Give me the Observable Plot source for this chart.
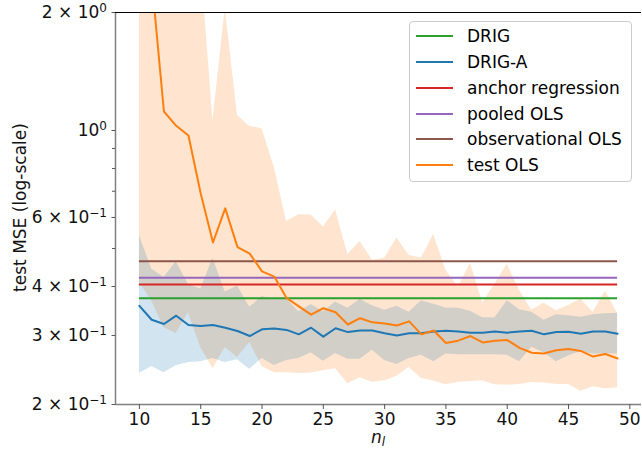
<!DOCTYPE html>
<html><head><meta charset="utf-8">
<script src="https://cdn.jsdelivr.net/npm/d3@7"></script>
<script src="https://cdn.jsdelivr.net/npm/@observablehq/plot@0.6"></script>
<style>
body{margin:0;background:#fff;}
#wrap{position:relative;width:642px;height:450px;font-family:"DejaVu Sans",sans-serif;overflow:hidden;}
.legend{position:absolute;left:409px;top:21px;width:223px;height:161px;border:1px solid #cccccc;border-radius:4px;background:rgba(255,255,255,0.8);box-sizing:border-box;}
.legend .row{position:absolute;left:6px;height:20px;display:flex;align-items:center;font-size:17px;color:#000;white-space:nowrap;}
.legend .sw{width:37px;height:2px;margin-right:14px;}
</style></head><body><div id="wrap"></div>
<script>
const nValues = [10,11,12,13,14,15,16,17,18,19,20,21,22,23,24,25,26,27,28,29,30,31,32,33,34,35,36,37,38,39,40,41,42,43,44,45,46,47,48,49];

const drigA = [0.357,0.329,0.321,0.337,0.319,0.317,0.319,0.314,0.308,0.299,
  0.311,0.3125,0.310,0.302,0.314,0.298,0.313,0.306,0.309,0.309,
  0.304,0.300,0.304,0.304,0.307,0.3085,0.307,0.305,0.305,0.307,
  0.305,0.307,0.3085,0.302,0.306,0.3065,0.303,0.307,0.307,0.303];
const drigAUpper = [0.540,0.443,0.422,0.4625,0.405,0.394,0.472,0.387,0.401,0.354,
  0.377,0.370,0.373,0.345,0.360,0.345,0.365,0.352,0.371,0.357,
  0.348,0.356,0.344,0.368,0.3605,0.3525,0.352,0.346,0.333,0.333,
  0.368,0.349,0.344,0.328,0.339,0.337,0.334,0.339,0.341,0.342];
const drigALower = [0.240,0.250,0.241,0.251,0.256,0.257,0.262,0.256,0.260,0.246,
  0.262,0.2515,0.259,0.262,0.271,0.258,0.270,0.261,0.261,0.275,
  0.259,0.253,0.262,0.267,0.257,0.269,0.268,0.268,0.268,0.268,
  0.267,0.257,0.280,0.271,0.257,0.266,0.273,0.269,0.269,0.269];

const testOLS = [4.5,2.43,1.118,1.028,0.971,0.691,0.518,0.633,0.504,0.485,
  0.437,0.424,0.374,0.356,0.339,0.352,0.344,0.320,0.332,0.324,
  0.322,0.318,0.326,0.302,0.309,0.287,0.291,0.299,0.288,0.291,
  0.292,0.279,0.271,0.270,0.275,0.277,0.274,0.265,0.269,0.262];
const testOLSUpper = [6.0,5.0,4.0,3.5,3.2,2.7,1.060,2.05,1.092,1.024,
  1.010,0.806,0.586,0.610,0.609,0.567,0.627,0.483,0.521,0.467,
  0.472,0.532,0.480,0.473,0.543,0.440,0.398,0.458,0.363,0.406,
  0.455,0.391,0.348,0.363,0.347,0.358,0.371,0.344,0.389,0.342];
const testOLSLower = [0.410,0.368,0.314,0.3035,0.343,0.2795,0.247,0.2795,0.2635,0.288,
  0.250,0.241,0.241,0.240,0.2405,0.244,0.2466,0.226,0.234,0.228,
  0.230,0.236,0.2485,0.233,0.2295,0.2245,0.228,0.2288,0.2295,0.2246,
  0.224,0.2249,0.2276,0.2269,0.2249,0.2249,0.2161,0.2219,0.2193,0.2206];

const hlineNames = ["DRIG","anchor regression","pooled OLS","observational OLS"];
const hlineValues = [0.3734,0.4046,0.421,0.464];

const legendNames = ["DRIG","DRIG-A","anchor regression","pooled OLS","observational OLS","test OLS"];
const legendColors = ["#2ca02c","#1f77b4","#d62728","#9467bd","#8c564b","#ff7f0e"];

const xTicks = [10,15,20,25,30,35,40,45,50];
const yTickValues = [0.2,0.3,0.4,0.6,1,2];
const yTickLabels = ["2 × 10^−1","3 × 10^−1","4 × 10^−1","6 × 10^−1","10^0","2 × 10^0"];
const yMinorTicks = [0.5,0.7,0.8,0.9];

const colorOf = name => legendColors[legendNames.indexOf(name)];
const rows = nValues.map((n,i)=>({n, a:drigA[i], aLo:drigALower[i], aHi:drigAUpper[i], t:testOLS[i], tLo:testOLSLower[i], tHi:testOLSUpper[i]}));
const hrows = hlineNames.map((name,i)=>({name, value:hlineValues[i], color:colorOf(name)}));
const x0 = nValues[0], x1 = nValues[nValues.length-1];
const xDom = [x0-(x1-x0)*0.05, x1+(x1-x0)*0.05];

const chart = Plot.plot({
  width: 642, height: 450,
  marginLeft: 115, marginRight: 1, marginTop: 12, marginBottom: 46,
  style: {fontFamily: "DejaVu Sans, sans-serif", fontSize: "17px", background: "white", color: "black"},
  x: {domain: xDom},
  y: {type: "log", domain: [0.2, 2]},
  color: {type: "identity"},
  marks: [
    Plot.areaY(rows, {x:"n", y1:"tLo", y2:"tHi", fill:colorOf("test OLS"), fillOpacity:0.2, clip:true}),
    Plot.areaY(rows, {x:"n", y1:"aLo", y2:"aHi", fill:colorOf("DRIG-A"), fillOpacity:0.2, clip:true}),
    Plot.ruleY(hrows, {y:"value", x1:x0, x2:x1, stroke:"color", strokeWidth:2}),
    Plot.lineY(rows, {x:"n", y:"a", stroke:colorOf("DRIG-A"), strokeWidth:2, clip:true}),
    Plot.lineY(rows, {x:"n", y:"t", stroke:colorOf("test OLS"), strokeWidth:2, clip:true}),
    Plot.ruleX([xDom[0]], {stroke:"#808080", strokeWidth:1.5}),
    Plot.ruleY([0.2], {stroke:"#808080", strokeWidth:1.5}),
    Plot.ruleY([2], {stroke:"#000", strokeWidth:1.2}),
    Plot.axisX(xTicks, {tickSize:5, tickPadding:3, label:null, stroke:"#555", fill:"#111"}),
    Plot.axisY(yTickValues, {tickSize:3.5, tickPadding:5, label:null, stroke:"#555", fill:"#111",
      tickFormat: d => yTickLabels[yTickValues.indexOf(d)]}),
    Plot.axisY(yMinorTicks, {tickSize:3, label:null, stroke:"#555", tickFormat: () => ""})
  ]
});

const wrap = document.getElementById("wrap");
wrap.appendChild(chart);
const svg = d3.select(chart);

// superscripts on y tick labels
svg.selectAll('g[aria-label="y-axis tick label"] text').each(function(){
  const s = this.textContent;
  if (!s.includes("^")) return;
  const [base, exp] = s.split("^");
  this.textContent = base;
  d3.select(this).append("tspan").attr("dy","-0.5em").attr("font-size","12px").text(exp);
});

// y label
svg.append("text")
  .attr("transform","translate(20,207.5) rotate(-90)")
  .attr("text-anchor","middle").attr("dominant-baseline","central")
  .attr("font-family","DejaVu Sans, sans-serif").attr("font-size","17px").attr("fill","#111")
  .text("test MSE (log-scale)");

// x label n_l
const xl = svg.append("text")
  .attr("x",378).attr("y",443).attr("text-anchor","middle")
  .attr("font-family","DejaVu Sans, sans-serif").attr("font-size","17px").attr("font-style","italic").attr("fill","#111");
xl.append("tspan").text("n");
xl.append("tspan").attr("dy","3").attr("font-size","12px").text("l");

// legend
const leg = document.createElement("div");
leg.className = "legend";
const rowCenters = [14,40,65.8,91.6,117.4,143.2];
legendNames.forEach((name,i)=>{
  const r = document.createElement("div");
  r.className = "row";
  r.style.top = (rowCenters[i]-10) + "px";
  const sw = document.createElement("div");
  sw.className = "sw"; sw.style.background = legendColors[i];
  const t = document.createElement("span"); t.textContent = name;
  r.appendChild(sw); r.appendChild(t);
  leg.appendChild(r);
});
wrap.appendChild(leg);
</script>
</body></html>
